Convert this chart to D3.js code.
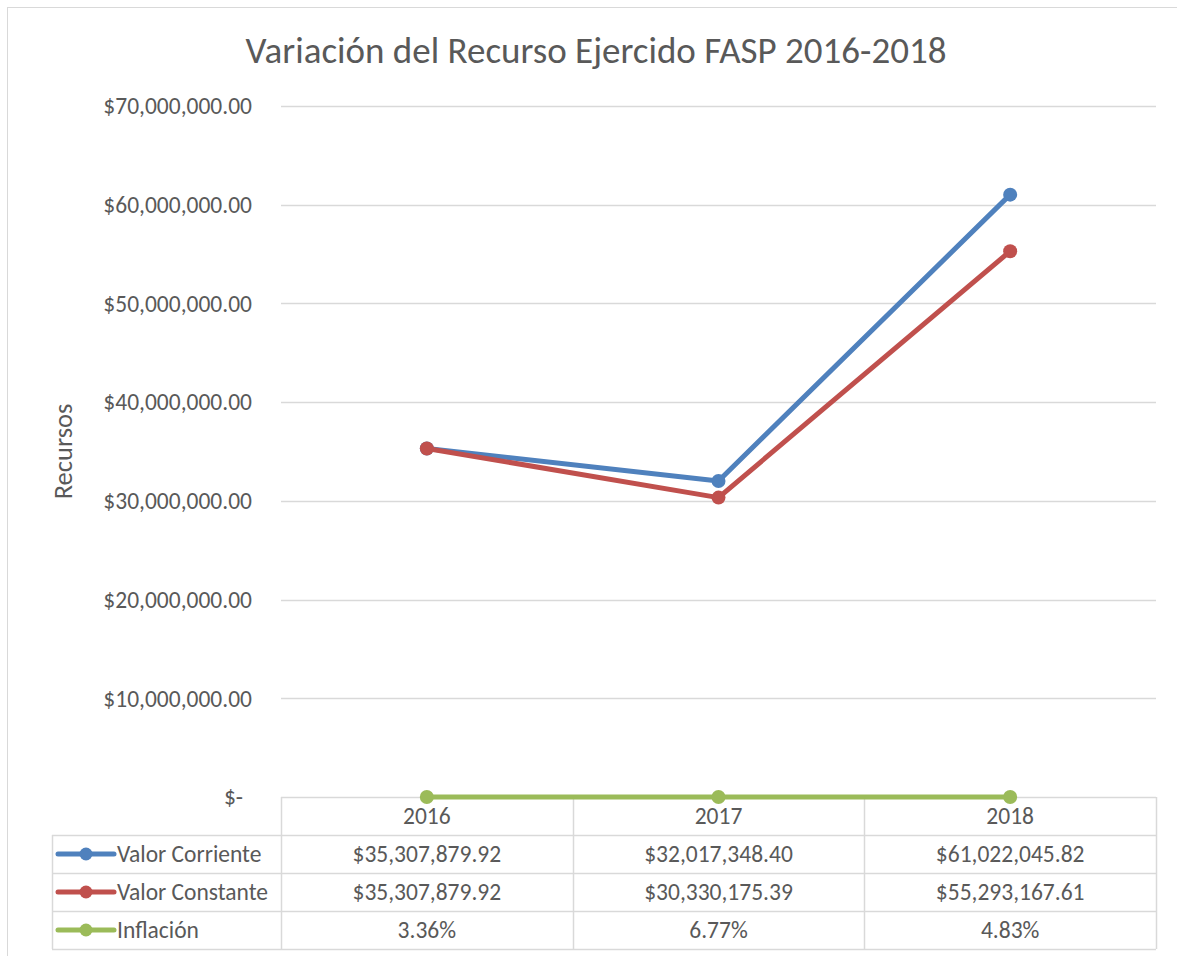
<!DOCTYPE html>
<html>
<head>
<meta charset="utf-8">
<script src="https://cdn.jsdelivr.net/npm/d3@7"></script>
<style>
    body { margin: 0; background: #fff; }
    svg { font-family: Carlito, Lato, sans-serif; }
</style>
</head>
<body>
<svg id="chart" width="1177" height="956"></svg>
<script>
// data
let years = ['2016', '2017', '2018'];
let valorCorriente = [35307879.92, 32017348.40, 61022045.82];
let valorConstante = [35307879.92, 30330175.39, 55293167.61];
let inflacion = [3.36, 6.77, 4.83];
let yTicks = [0, 10000000, 20000000, 30000000, 40000000, 50000000, 60000000, 70000000];

let series = [
    { name: 'Valor Corriente', color: '#4F81BD', values: valorCorriente, fmt: d3.format('$,.2f') },
    { name: 'Valor Constante', color: '#C0504D', values: valorConstante, fmt: d3.format('$,.2f') },
    { name: 'Inflación', color: '#9BBB59', values: inflacion.map(d => d / 100), fmt: d => d3.format('.2f')(d * 100) + '%' }
];

let textColor = '#595959';
let gridColor = '#D9D9D9';
let labelSize = '23.5px';
let plot = { left: 281, right: 1156, top: 106, bottom: 797 };
let rowH = 38;

let svg = d3.select('#chart');

// outer chart border
svg.append('rect')
    .attr('x', 7.5).attr('y', 7.5)
    .attr('width', 1200).attr('height', 1000)
    .attr('fill', 'none')
    .attr('stroke', gridColor);

// title
svg.append('text')
    .attr('x', 596).attr('y', 63)
    .attr('text-anchor', 'middle')
    .style('font-size', '37px')
    .style('fill', textColor)
    .text('Variación del Recurso Ejercido FASP 2016-2018');

let x = d3.scaleBand()
    .domain(years)
    .range([plot.left, plot.right]);

let y = d3.scaleLinear()
    .domain([0, 70000000])
    .range([plot.bottom, plot.top]);

// gridlines
svg.append('g')
    .selectAll('line')
    .data(yTicks)
    .join('line')
    .attr('x1', plot.left).attr('x2', plot.right)
    .attr('y1', d => Math.round(y(d)) + 0.5)
    .attr('y2', d => Math.round(y(d)) + 0.5)
    .attr('stroke', gridColor)
    .attr('stroke-width', 1.3);

// y tick labels
let moneyFmt = d3.format('$,.2f');
svg.append('g')
    .selectAll('text')
    .data(yTicks)
    .join('text')
    .attr('x', d => d === 0 ? 243 : 252)
    .attr('y', d => y(d))
    .attr('dy', '0.35em')
    .attr('text-anchor', 'end')
    .style('font-size', labelSize)
    .style('fill', textColor)
    .text(d => d === 0 ? '$-' : moneyFmt(d));

// axis title
svg.append('text')
    .attr('transform', `translate(72, ${(plot.top + plot.bottom) / 2}) rotate(-90)`)
    .attr('text-anchor', 'middle')
    .style('font-size', '26.5px')
    .style('fill', textColor)
    .text('Recursos');

// data table grid
let tableLeft = 52;
let tableTop = plot.bottom;
let tableBottom = tableTop + rowH * 4;
let grid = svg.append('g')
    .attr('stroke', gridColor)
    .attr('stroke-width', 1.5);

// vertical lines between columns
grid.selectAll('line.v')
    .data([plot.left, ...years.map(d => x(d) + x.bandwidth())])
    .join('line')
    .classed('v', true)
    .attr('x1', d => Math.round(d) + 0.5).attr('x2', d => Math.round(d) + 0.5)
    .attr('y1', tableTop).attr('y2', tableBottom);

grid.append('line')
    .attr('x1', tableLeft + 0.5).attr('x2', tableLeft + 0.5)
    .attr('y1', tableTop + rowH).attr('y2', tableBottom);

grid.selectAll('line.h')
    .data([1, 2, 3, 4])
    .join('line')
    .classed('h', true)
    .attr('x1', tableLeft).attr('x2', plot.right)
    .attr('y1', d => tableTop + rowH * d + 0.5)
    .attr('y2', d => tableTop + rowH * d + 0.5);

// header row of years
svg.append('g')
    .selectAll('text')
    .data(years)
    .join('text')
    .attr('x', d => x(d) + x.bandwidth() / 2)
    .attr('y', tableTop + rowH / 2)
    .attr('dy', '0.35em')
    .attr('text-anchor', 'middle')
    .style('font-size', labelSize)
    .style('fill', textColor)
    .text(d => d);

// one row per series
let rows = svg.append('g')
    .selectAll('g')
    .data(series)
    .join('g')
    .attr('transform', (d, i) => `translate(0, ${tableTop + rowH * (i + 1) + rowH / 2})`);

rows.append('line')
    .attr('x1', 58).attr('x2', 114)
    .attr('stroke', d => d.color)
    .attr('stroke-width', 5)
    .attr('stroke-linecap', 'round');

rows.append('circle')
    .attr('cx', 86)
    .attr('r', 6.5)
    .attr('fill', d => d.color);

rows.append('text')
    .attr('x', 117)
    .attr('dy', '0.35em')
    .style('font-size', labelSize)
    .style('fill', textColor)
    .text(d => d.name);

rows.selectAll('text.val')
    .data(d => d.values.map(v => d.fmt(v)))
    .join('text')
    .classed('val', true)
    .attr('x', (d, i) => x(years[i]) + x.bandwidth() / 2)
    .attr('dy', '0.35em')
    .attr('text-anchor', 'middle')
    .style('font-size', labelSize)
    .style('fill', textColor)
    .text(d => d);

// lines and markers (inflation last so it sits on the axis)
let line = d3.line()
    .x((d, i) => x(years[i]) + x.bandwidth() / 2)
    .y(d => y(d));

let lineGroups = svg.append('g')
    .selectAll('g')
    .data(series)
    .join('g');

lineGroups.append('path')
    .attr('d', d => line(d.values))
    .attr('fill', 'none')
    .attr('stroke', d => d.color)
    .attr('stroke-width', 5)
    .attr('stroke-linejoin', 'round')
    .attr('stroke-linecap', 'round');

lineGroups.selectAll('circle')
    .data(d => d.values.map(v => ({ v: v, color: d.color })))
    .join('circle')
    .attr('cx', (d, i) => x(years[i]) + x.bandwidth() / 2)
    .attr('cy', d => y(d.v))
    .attr('r', 7)
    .attr('fill', d => d.color);
</script>
</body>
</html>
